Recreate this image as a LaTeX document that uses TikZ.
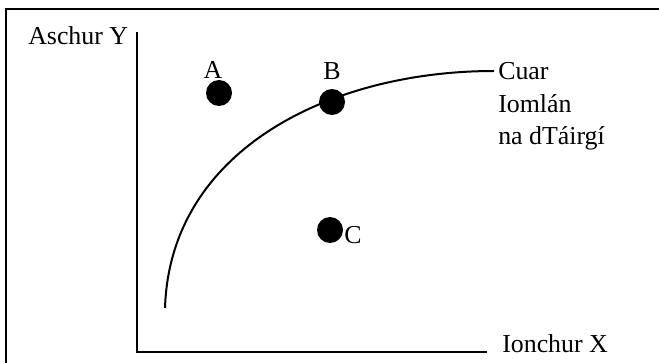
\documentclass[tikz,border=0pt]{standalone}
\usepackage{fontspec}
\setmainfont{Liberation Serif}
\begin{document}
\begin{tikzpicture}[x=0.75pt,y=-0.75pt,
  lbl/.style={inner sep=0pt,font=\fontsize{19.4}{24}\selectfont},
  dot/.style={circle,fill=black,minimum size=19.5pt,inner sep=0pt},
  ln/.style={line width=1.5pt}]
\useasboundingbox (0,0) rectangle (659,363);
\draw[line width=1.6pt] (6,380) -- (6,9) -- (680,9);
% axes
\coordinate (ytop) at (137,32);
\coordinate (orig) at (137,352);
\coordinate (xend) at (487,352);
\draw[ln] (ytop) -- (orig) -- (xend);
\node[lbl,anchor=base west] (ylab) at (28,45) {Aschur Y};
\node[lbl,anchor=base west] (xlab) at (502,352) {Ionchur X};
% curve
\coordinate (cstart) at (165,308);
\coordinate (cend) at (494,71);
\draw[ln] (cstart) .. controls (170,150) and (330,71) .. (cend);
\node[lbl,anchor=base west,align=left] (cuar) at (498,80) {Cuar};
\node[lbl,anchor=base west] (ioml) at (498,113) {Iomlán};
\node[lbl,anchor=base west] (na) at (498,145) {na dTáirgí};
% points
\node[dot] (A) at (219,93) {};
\node[dot] (B) at (332,102) {};
\node[dot] (C) at (330,230) {};
\node[lbl,anchor=base] (Al) at (213,79) {A};
\node[lbl,anchor=base] (Bl) at (332,80) {B};
\node[lbl,anchor=base west] (Cl) at (344,243) {C};
\end{tikzpicture}
\end{document}
